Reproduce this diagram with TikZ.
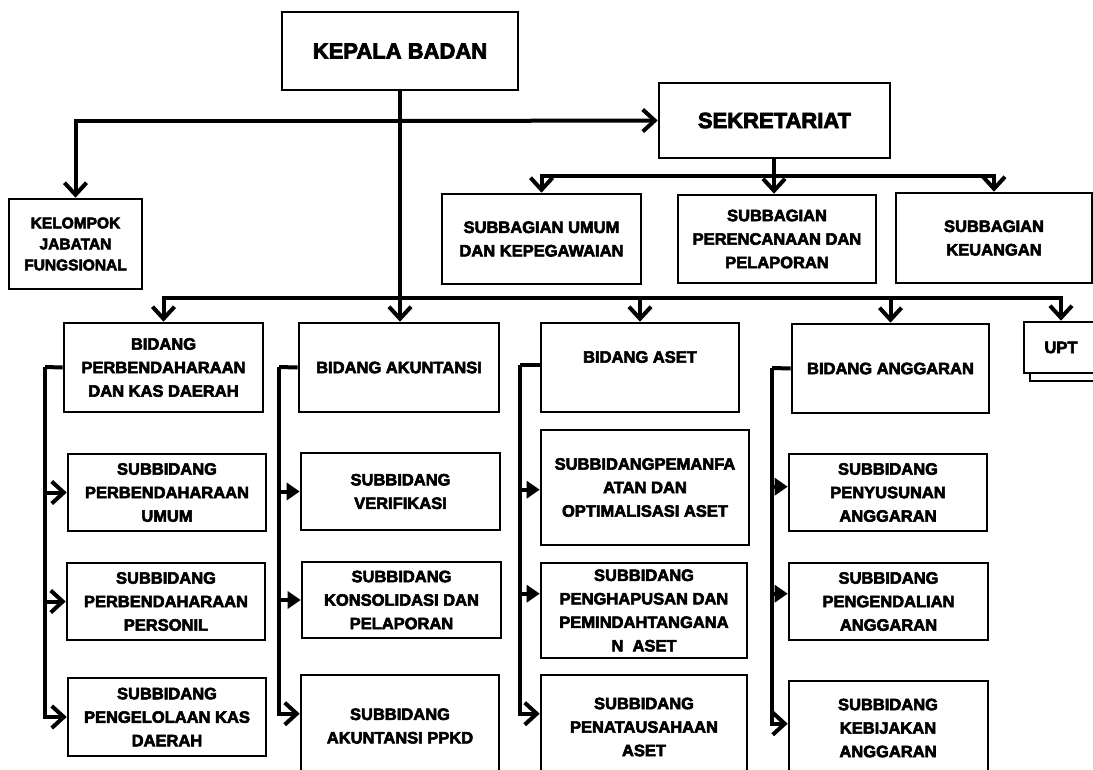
\documentclass[tikz,border=0pt]{standalone}
\usepackage{fontspec}
\setmainfont{Liberation Sans}[BoldFont={Liberation Sans Bold}, BoldFeatures={FakeBold=3.5}]
\usetikzlibrary{arrows.meta,calc}
\tikzset{
  box/.style={draw, line width=2.6pt, inner sep=0pt, fill=white, align=center,
    font=\bfseries\fontsize{16.5}{23.5}\selectfont},
  txt/.style={inner sep=0pt, align=center, font=\bfseries\fontsize{16.5}{23.5}\selectfont},
  bigtxt/.style={font=\bfseries\fontsize{22}{26}\selectfont},
  smalltxt/.style={font=\bfseries\fontsize{15.5}{21}\selectfont},
  conn/.style={line width=4pt, line join=miter},
  va/.style={-{Straight Barb[length=12pt,width=22pt]}},
  fa/.style={-{Triangle[length=13pt,width=17pt]}},
}
% \bbox[style]{name}{x1}{y1}{x2}{y2}{text}
\newcommand\bbox[7][]{\node[box,#1, minimum width={(#5-#3)*1pt}, minimum height={(#6-#4)*1pt}] (#2) at ({(#3+#5)/2},{(#4+#6)/2}) {#7};}
\begin{document}
\begin{tikzpicture}[x=1pt,y=-1pt]
\useasboundingbox (0,0) rectangle (1093,769);
\fill[white] (0,0) rectangle (1093,769);
\clip (0,0) rectangle (1093,769);

% top level
\bbox[bigtxt]{kb}{282}{12}{518}{90}{KEPALA BADAN}
\bbox[bigtxt]{sek}{659}{83}{890}{158}{SEKRETARIAT}
\bbox[smalltxt]{kjf}{9}{199}{142}{289}{KELOMPOK\\JABATAN\\FUNGSIONAL}
\bbox{umum}{442}{194}{641}{284}{SUBBAGIAN UMUM\\DAN KEPEGAWAIAN}
\bbox{per}{678}{195}{876}{283}{SUBBAGIAN\\PERENCANAAN DAN\\PELAPORAN}
\bbox{keu}{896}{193}{1092}{283}{SUBBAGIAN\\KEUANGAN}

% bidang row
\bbox{bpk}{64}{323}{263}{412}{BIDANG\\PERBENDAHARAAN\\DAN KAS DAERAH}
\bbox{bak}{299}{323}{499}{412}{BIDANG AKUNTANSI}
\bbox{bas}{541}{323}{739}{412}{}
\node[txt] (tbas) at (640,357) {BIDANG ASET};
\bbox{bang}{792}{324}{989}{413}{BIDANG ANGGARAN}
\bbox{upts}{1030}{329}{1110}{381}{}
\node[box, minimum width=74pt, minimum height=51pt] (upt) at (1061,347.5) {UPT};

% column 1
\bbox{s11}{68}{454}{266}{531}{SUBBIDANG\\PERBENDAHARAAN\\UMUM}
\bbox{s12}{67}{563}{265}{640}{SUBBIDANG\\PERBENDAHARAAN\\PERSONIL}
\bbox{s13}{68}{678}{266}{756}{SUBBIDANG\\PENGELOLAAN KAS\\DAERAH}
% column 2
\bbox{s21}{301}{453}{500}{530}{SUBBIDANG\\VERIFIKASI}
\bbox{s22}{302}{562}{501}{638}{SUBBIDANG\\KONSOLIDASI DAN\\PELAPORAN}
\bbox{s23}{301}{675}{499}{790}{}
\node[txt] (ts23) at (400,726) {SUBBIDANG\\AKUNTANSI PPKD};
% column 3
\bbox{s31}{541}{430}{749}{545}{SUBBIDANGPEMANFA\\ATAN DAN\\OPTIMALISASI ASET}
\bbox{s32}{541}{563}{747}{658}{SUBBIDANG\\PENGHAPUSAN DAN\\PEMINDAHTANGANA\\N\ \ ASET}
\bbox{s33}{541}{675}{747}{790}{}
\node[txt] (ts33) at (644,727) {SUBBIDANG\\PENATAUSAHAAN\\ASET};
% column 4
\bbox{s41}{789}{454}{987}{531}{SUBBIDANG\\PENYUSUNAN\\ANGGARAN}
\bbox{s42}{789}{563}{988}{640}{SUBBIDANG\\PENGENDALIAN\\ANGGARAN}
\bbox{s43}{789}{681}{988}{800}{}
\node[txt] (ts43) at (888,728) {SUBBIDANG\\KEBIJAKAN\\ANGGARAN};

% junctions
\coordinate (j1) at (400,121);
\coordinate (j2) at (774,176);
\coordinate (j3) at (400,298);

% top connectors
\draw[conn,va] (kb.south) -- (kb.south |- bak.north);
\draw[conn,va] (j1) -| (kjf.north);
\draw[conn,va] (j1) -- (sek.west);
\draw[conn] (sek.south -| j2) -- (j2);
\draw[conn,va] (j2) -| (umum.north);
\draw[conn,va] (j2) -- (j2 |- per.north);
\draw[conn,va] (j2) -| (keu.north);
\draw[conn,va] (j3) -| (bpk.north);
\draw[conn,va] (j3) -| (bas.north);
\draw[conn,va] (j3) -| (bang.north);
\draw[conn,va] (j3) -| (upt.north);

% brackets
\coordinate (c1) at (45,367);
\coordinate (c2) at (279,367);
\coordinate (c3) at (520,365);
\coordinate (c4) at (772,368);
\coordinate (a32) at ($(s32.north west)+(0,32)$);
\coordinate (a23) at ($(s23.north west)+(0,40)$);
\coordinate (a33) at ($(s33.north west)+(0,40)$);
\coordinate (a31) at ($(s31.north west)+(0,61)$);
\coordinate (a41) at ($(s41.north west)+(0,34)$);
\coordinate (a42) at ($(s42.north west)+(0,32)$);
\coordinate (a43) at ($(s43.north west)+(0,44)$);

\draw[conn] (bpk.west) -- (c1);
\draw[conn,va] (c1) |- (s11.west);
\draw[conn,va] (c1) |- (s12.west);
\draw[conn,va] (c1) |- (s13.west);

\draw[conn] (bak.west) -- (c2);
\draw[conn,fa] (c2) |- (s21.west);
\draw[conn,fa] (c2) |- (s22.west);
\draw[conn,va] (c2) |- (a23);

\draw[conn] (bas.west |- c3) -- (c3);
\draw[conn,fa] (c3) |- (a31);
\draw[conn,fa] (c3) |- (a32);
\draw[conn,va] (c3) |- (a33);

\draw[conn] (bang.west) -- (c4);
\draw[conn,fa] (c4) |- (a41);
\draw[conn,fa] (c4) |- (a42);
\draw[conn,va] (c4) |- (a43);
\end{tikzpicture}
\end{document}
